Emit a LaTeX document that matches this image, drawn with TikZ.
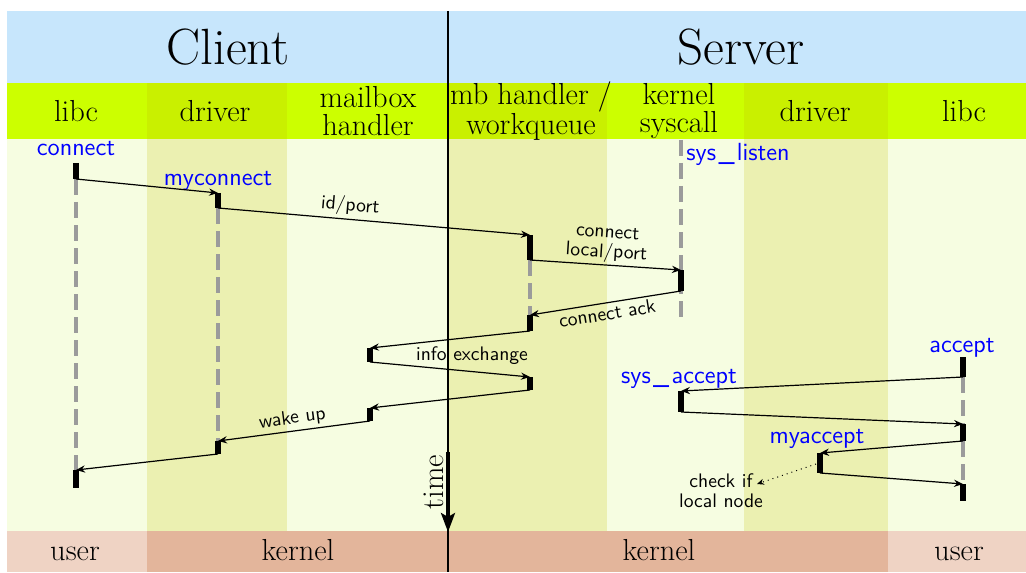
\documentclass[tikz,border=0pt]{standalone}
\usetikzlibrary{arrows.meta}
\definecolor{hdrblue}{RGB}{199,230,252}
\definecolor{hdrlime}{RGB}{204,255,0}
\definecolor{hdrlimedk}{RGB}{201,240,0}
\definecolor{bodylt}{RGB}{246,253,225}
\definecolor{bodydk}{RGB}{235,240,177}
\definecolor{usercol}{RGB}{239,211,196}
\definecolor{kernelcol}{RGB}{227,181,155}
\definecolor{lifegray}{RGB}{155,155,155}
\definecolor{callblue}{RGB}{0,0,255}
\newcommand{\uscore}{\kern1.2pt\_\kern1.2pt}
\begin{document}
\begin{tikzpicture}[x=0.5pt,y=-0.5pt,
  title/.style={font=\fontsize{25.5}{30}\selectfont, inner sep=0pt, anchor=base},
  layer/.style={font=\fontsize{15.2}{13.8}\selectfont, align=center, inner sep=0pt},
  call/.style={font=\sffamily\fontsize{12.4}{14}\selectfont, text=callblue, inner sep=0pt, anchor=base},
  msglabel/.style={font=\sffamily\fontsize{9.8}{10}\selectfont, inner sep=1.5pt, align=center},
  lifeline/.style={draw=lifegray, line width=2pt, dash pattern=on 8pt off 3.5pt},
  active/.style={draw=black, line width=2.6pt},
  msg/.style={draw=black, line width=0.6pt, -{Stealth[length=4.5pt,width=3.6pt]}},
]
\useasboundingbox (0,0) rectangle (1026,572);
\fill[white] (0,0) rectangle (1026,572);

% bands
\fill[hdrblue] (7,11) rectangle (1026,83);
\fill[hdrlime] (7,83) rectangle (1026,139);
\fill[bodylt] (7,139) rectangle (1026,531);
\foreach \a/\b in {147/287, 448/607, 744/888} {
  \fill[hdrlimedk] (\a,83) rectangle (\b,139);
  \fill[bodydk] (\a,139) rectangle (\b,531);
}
\fill[usercol] (7,531) rectangle (147,572);
\fill[kernelcol] (147,531) rectangle (888,572);
\fill[usercol] (888,531) rectangle (1026,572);

% titles
\node[title] (client) at (228,65) {Client};
\node[title] (server) at (741,65) {Server};

% column headers
\node[layer] (hlibcA) at (76,111) {libc};
\node[layer] (hdrvA) at (215,111) {driver};
\node[layer] (hmbox) at (368,111) {mailbox\\handler};
\node[layer] (hmbh) at (531,111) {mb handler /\\workqueue};
\node[layer] (hsys) at (679,111) {kernel\\syscall};
\node[layer] (hdrvB) at (815,111) {driver};
\node[layer] (hlibcB) at (964,111) {libc};

% bottom labels
\node[layer, anchor=base] (ulA) at (75,560) {user};
\node[layer, anchor=base] (klA) at (298,560) {kernel};
\node[layer, anchor=base] (klB) at (659,560) {kernel};
\node[layer, anchor=base] (ulB) at (959,560) {user};

% divider and time axis
\coordinate (divtop) at (448,11);
\coordinate (divbot) at (448,572);
\coordinate (timetop) at (448,452);
\coordinate (timebot) at (448,532);
\draw[line width=0.75pt] (divtop) -- (divbot);
\draw[line width=1.6pt, -{Stealth[length=9.5pt,width=7pt,inset=2pt]}] (timetop) -- (timebot);
\node[layer, rotate=90, anchor=base] (timelbl) at (443,482) {time};

% lifeline anchor points
\coordinate (a1) at (76,163);  \coordinate (a2) at (76,179);
\coordinate (a3) at (76,470);  \coordinate (a4) at (76,488);
\coordinate (b1) at (218,193); \coordinate (b2) at (218,208);
\coordinate (b3) at (218,441); \coordinate (b4) at (218,454);
\coordinate (c1) at (370,348); \coordinate (c2) at (370,362);
\coordinate (c3) at (370,408); \coordinate (c4) at (370,421);
\coordinate (d1) at (530,235); \coordinate (d2) at (530,260);
\coordinate (d3) at (530,315); \coordinate (d4) at (530,331);
\coordinate (d5) at (530,377); \coordinate (d6) at (530,390);
\coordinate (e0) at (681,140); \coordinate (e1) at (681,270);
\coordinate (e2) at (681,291); \coordinate (e5) at (681,318);
\coordinate (e3) at (681,391); \coordinate (e4) at (681,412);
\coordinate (f1) at (820,453); \coordinate (f2) at (820,473);
\coordinate (f3) at (816,464);
\coordinate (g1) at (963,357); \coordinate (g2) at (963,377);
\coordinate (g3) at (963,424); \coordinate (g4) at (963,441);
\coordinate (g5) at (963,484); \coordinate (g6) at (963,501);

% idle lifelines
\draw[lifeline] (a2) -- (a3);
\draw[lifeline] (b2) -- (b3);
\draw[lifeline] (d2) -- (d3);
\draw[lifeline] (e0) -- (e5);
\draw[lifeline] (g2) -- (g3);
\draw[lifeline] (g4) -- (g5);

% call names
\node[call] (connect) at (76,156) {connect};
\node[call] (myconnect) at (218,185) {myconnect};
\node[call, anchor=base west] (syslisten) at (686,161) {sys\uscore listen};
\node[call] (accept) at (962,352) {accept};
\node[call] (sysaccept) at (679,383) {sys\uscore accept};
\node[call] (myaccept) at (817,443) {myaccept};

% messages
\draw[msg] (a2) -- (b1);
\draw[msg] (b2) -- node[msglabel, above, sloped, pos=0.42] (idport) {id/port} (d1);
\draw[msg] (d2) -- node[msglabel, above, sloped, inner sep=1pt] (conlocal) {connect\\local/port} (e1);
\draw[msg] (e2) -- node[msglabel, below, sloped] (conack) {connect ack} (d3);
\draw[msg] (d4) -- (c1);
\node[msglabel, anchor=base] (infolbl) at (472,360) {info exchange};
\draw[msg] (c2) -- (d5);
\draw[msg] (d6) -- (c3);
\draw[msg] (c4) -- node[msglabel, above, sloped] (wakeup) {wake up} (b3);
\draw[msg] (b4) -- (a3);
\draw[msg] (g2) -- (e3);
\draw[msg] (e4) -- (g3);
\draw[msg] (g4) -- (f1);
\draw[msg] (f2) -- (g5);

\node[msglabel] (chk) at (721,491) {check if\\local node};
\coordinate (chkpt) at (757,484);
\draw[line width=0.5pt, dotted, -{Stealth[length=3.5pt,width=3pt]}] (f3) -- (chkpt);

% activations
\draw[active] (a1) -- (a2);
\draw[active] (a3) -- (a4);
\draw[active] (b1) -- (b2);
\draw[active] (b3) -- (b4);
\draw[active] (c1) -- (c2);
\draw[active] (c3) -- (c4);
\draw[active] (d1) -- (d2);
\draw[active] (d3) -- (d4);
\draw[active] (d5) -- (d6);
\draw[active] (e1) -- (e2);
\draw[active] (e3) -- (e4);
\draw[active] (f1) -- (f2);
\draw[active] (g1) -- (g2);
\draw[active] (g3) -- (g4);
\draw[active] (g5) -- (g6);
\end{tikzpicture}
\end{document}
